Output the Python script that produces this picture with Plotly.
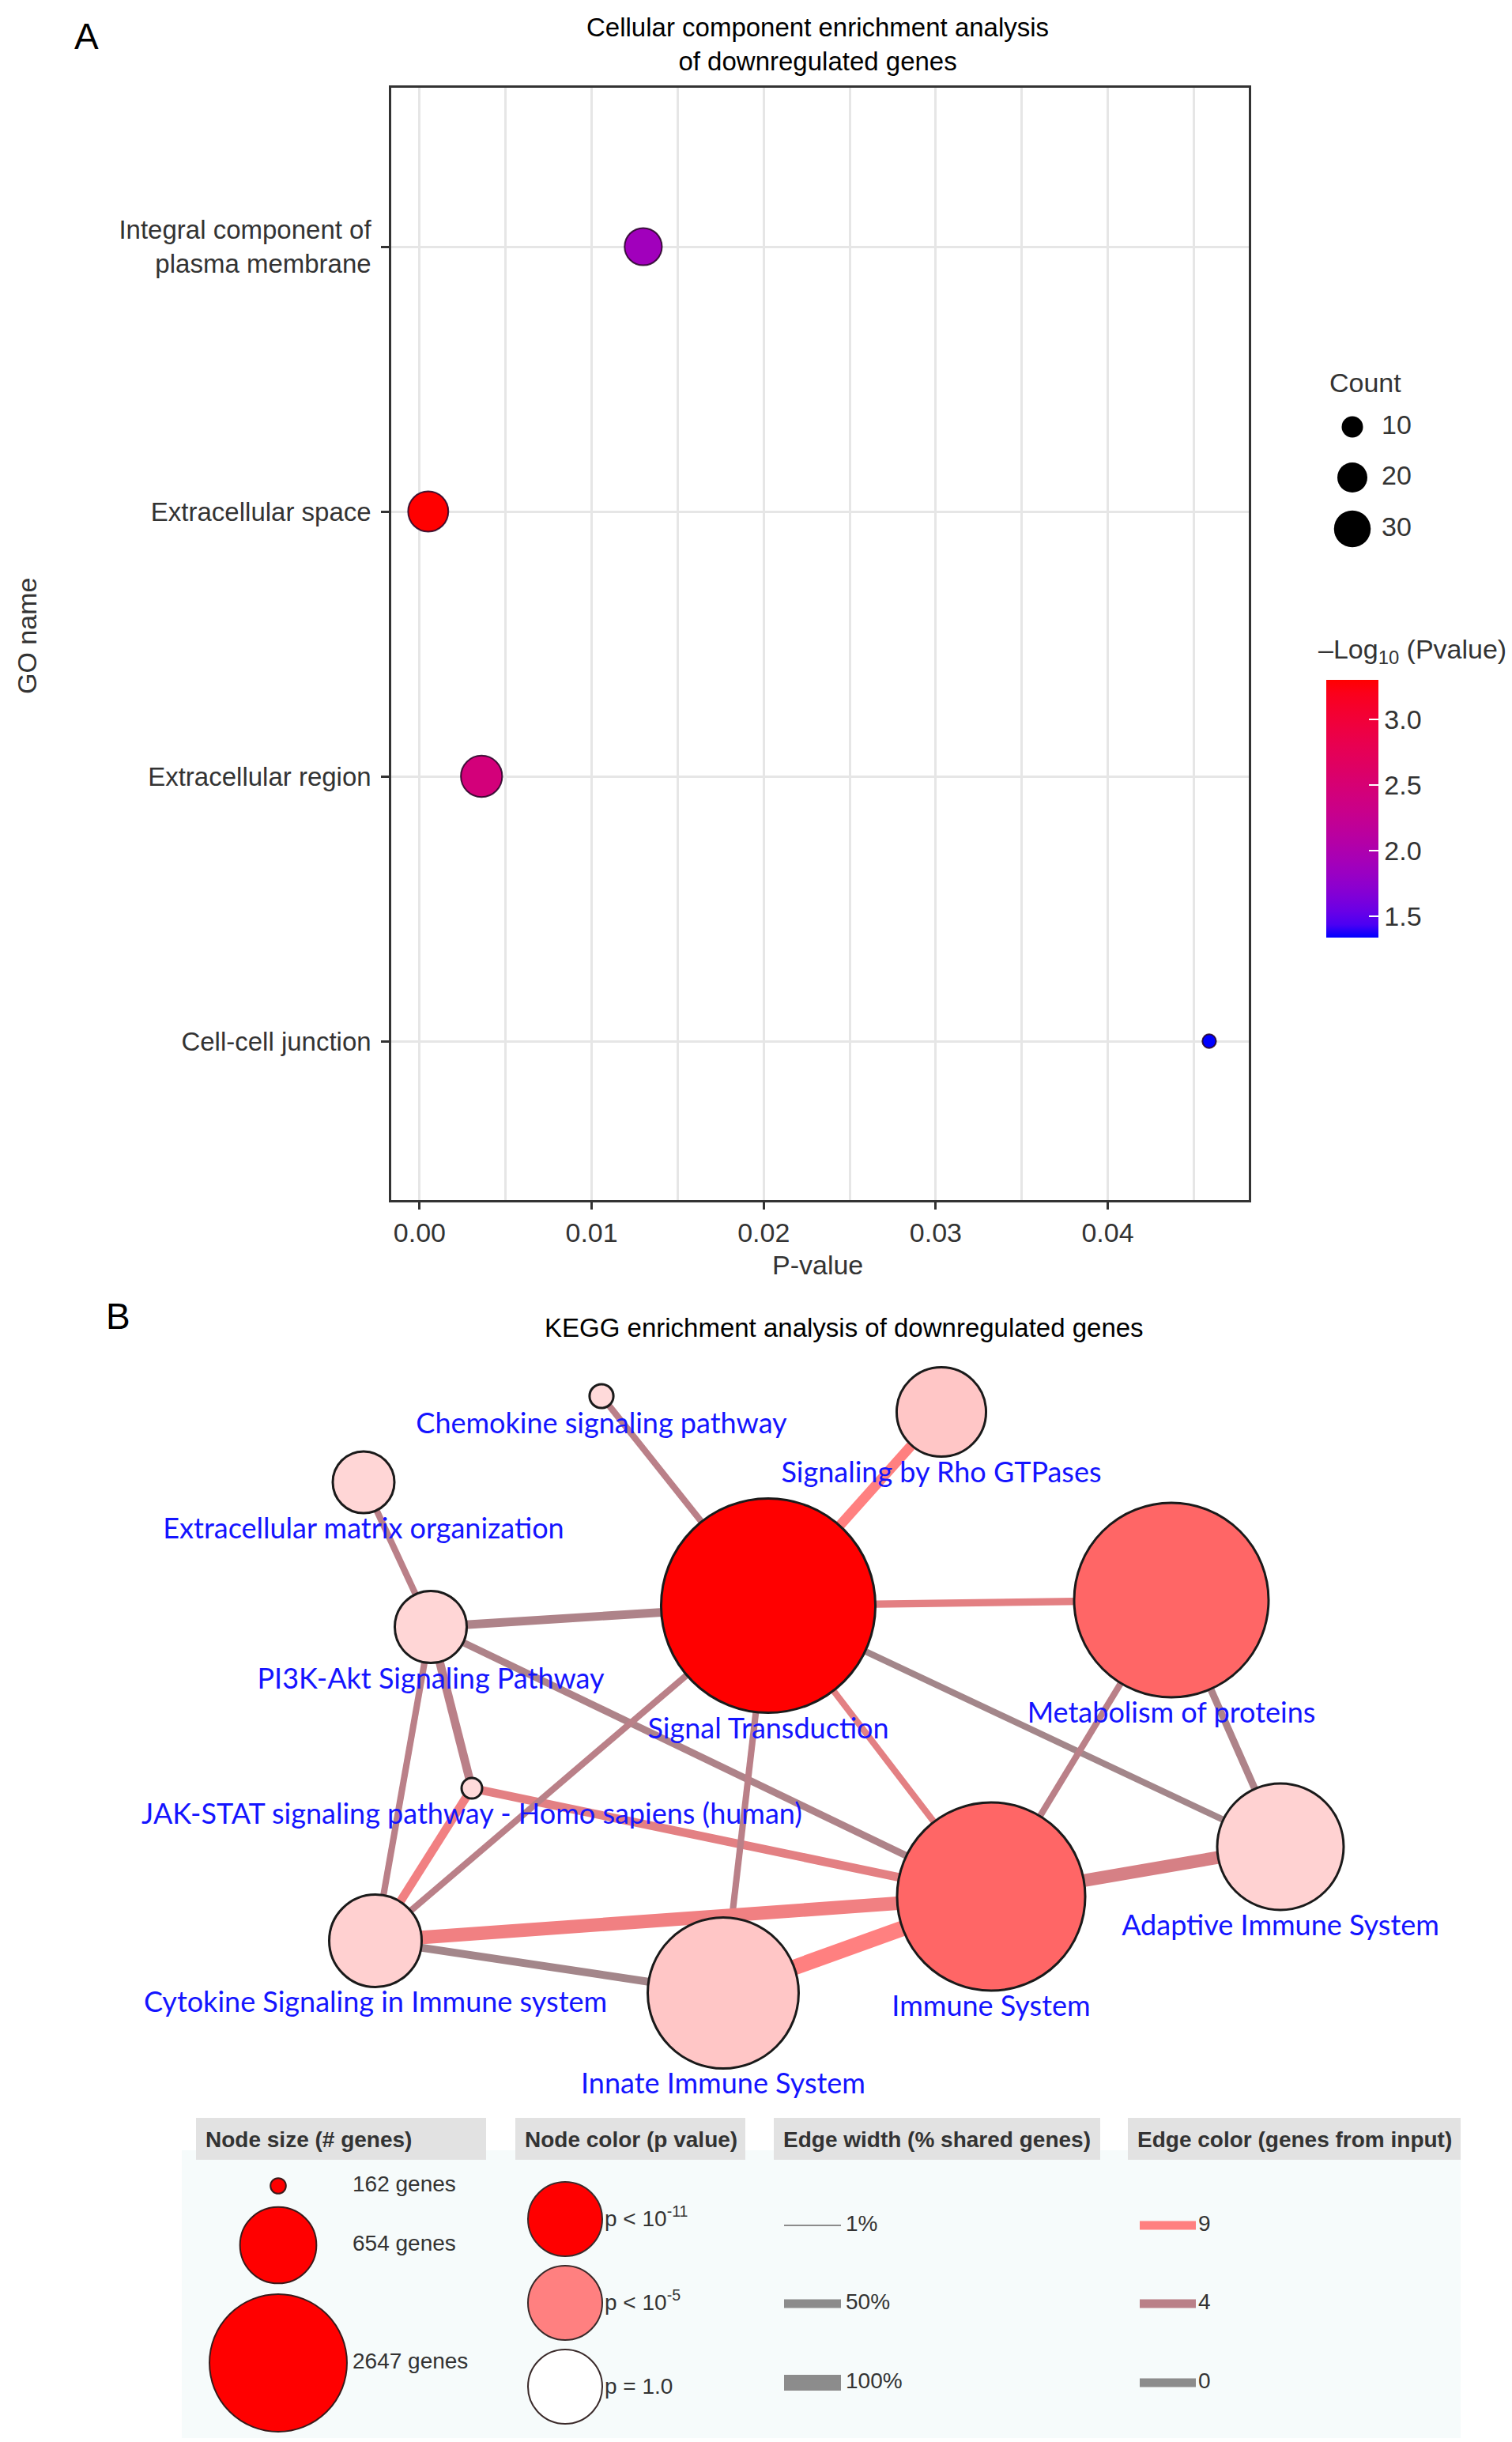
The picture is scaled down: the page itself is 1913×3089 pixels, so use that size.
import math
import plotly.graph_objects as go

W, H = 1913, 3089

# ---------------- Panel A data ----------------
go_terms = ["Integral component of<br>plasma membrane", "Extracellular space",
            "Extracellular region", "Cell-cell junction"]
go_pvalues = [0.0130, 0.00050, 0.0036, 0.0459]
go_counts = [31, 36, 38, 4]
count_legend = [10, 20, 30]
x_ticks = [0.00, 0.01, 0.02, 0.03, 0.04]
cbar_ticks = [1.5, 2.0, 2.5, 3.0]

# ---------------- Panel B data ----------------
node_names = ["Chemokine signaling pathway", "Signaling by Rho GTPases",
              "Extracellular matrix organization", "Signal Transduction",
              "Metabolism of proteins", "PI3K-Akt Signaling Pathway",
              "JAK-STAT signaling pathway - Homo sapiens (human)",
              "Cytokine Signaling in Immune system", "Innate Immune System",
              "Immune System", "Adaptive Immune System"]
node_x = [753, 1183, 452, 964, 1474, 537, 589, 467, 907, 1246, 1612]
node_y = [1758, 1778, 1867, 2023, 2016, 2050, 2254, 2447, 2513, 2391, 2328]
node_genes = [170, 437, 293, 2647, 1989, 340, 162, 457, 1062, 1816, 746]
node_pvalues = [2.5e-2, 3.5e-3, 1.7e-2, 1e-12, 2.5e-7, 1.7e-2, 2.5e-2, 9e-3, 3.5e-3, 2.5e-7, 1.2e-2]

edge_source = ["Chemokine signaling pathway", "Extracellular matrix organization",
               "PI3K-Akt Signaling Pathway", "PI3K-Akt Signaling Pathway",
               "PI3K-Akt Signaling Pathway", "PI3K-Akt Signaling Pathway",
               "Signaling by Rho GTPases", "Signal Transduction", "Signal Transduction",
               "Signal Transduction", "Immune System", "Metabolism of proteins",
               "JAK-STAT signaling pathway - Homo sapiens (human)",
               "JAK-STAT signaling pathway - Homo sapiens (human)",
               "Signal Transduction", "Signal Transduction",
               "Cytokine Signaling in Immune system", "Cytokine Signaling in Immune system",
               "Innate Immune System", "Immune System"]
edge_target = ["Signal Transduction", "PI3K-Akt Signaling Pathway",
               "Signal Transduction", "Immune System",
               "JAK-STAT signaling pathway - Homo sapiens (human)",
               "Cytokine Signaling in Immune system",
               "Signal Transduction", "Metabolism of proteins", "Adaptive Immune System",
               "Immune System", "Metabolism of proteins", "Adaptive Immune System",
               "Immune System", "Cytokine Signaling in Immune system",
               "Cytokine Signaling in Immune system", "Innate Immune System",
               "Immune System", "Innate Immune System",
               "Immune System", "Adaptive Immune System"]
edge_shared_pct = [35, 35, 50, 40, 50, 35, 60, 42, 35, 35, 35, 40, 50, 50, 35, 35, 85, 45, 100, 80]
edge_input_genes = [4, 4, 3, 3, 4, 4, 9, 7, 2, 7, 4, 3, 7, 8, 4, 4, 8, 2, 9, 6]

legend_genes = [162, 654, 2647]
legend_p_labels = ["p < 10<sup>-11</sup>", "p < 10<sup>-5</sup>", "p = 1.0"]
legend_width_pct = [1, 50, 100]
legend_input_genes = [9, 4, 0]

# ---------------- helpers (scales) ----------------
def hex2rgb(h):
    h = h.lstrip('#')
    return [int(h[i:i + 2], 16) for i in (0, 2, 4)]

def srgb_to_lab(rgb):
    def lin(c):
        c = c / 255.0
        return c / 12.92 if c <= 0.04045 else ((c + 0.055) / 1.055) ** 2.4
    r, g, b = [lin(c) for c in rgb]
    X = (0.4124 * r + 0.3576 * g + 0.1805 * b) / 0.95047
    Y = (0.2126 * r + 0.7152 * g + 0.0722 * b)
    Z = (0.0193 * r + 0.1192 * g + 0.9505 * b) / 1.08883
    def f(t):
        return t ** (1 / 3) if t > 0.008856 else 7.787 * t + 16 / 116
    fx, fy, fz = f(X), f(Y), f(Z)
    return [116 * fy - 16, 500 * (fx - fy), 200 * (fy - fz)]

def lab_to_srgb(lab):
    L, a, b = lab
    fy = (L + 16) / 116
    fx = fy + a / 500
    fz = fy - b / 200
    def finv(t):
        return t ** 3 if t ** 3 > 0.008856 else (t - 16 / 116) / 7.787
    X, Y, Z = finv(fx) * 0.95047, finv(fy), finv(fz) * 1.08883
    r = 3.2406 * X - 1.5372 * Y - 0.4986 * Z
    g = -0.9689 * X + 1.8758 * Y + 0.0415 * Z
    bb = 0.0557 * X - 0.2040 * Y + 1.0570 * Z
    def gam(c):
        c = c * 12.92 if c <= 0.0031308 else 1.055 * c ** (1 / 2.4) - 0.055
        return max(0, min(255, round(c * 255)))
    return [gam(r), gam(g), gam(bb)]

lab_lo = srgb_to_lab([0, 0, 255])
lab_hi = srgb_to_lab([255, 0, 0])
colorscale = []
for i in range(21):
    t = i / 20
    lab = [lab_lo[k] + (lab_hi[k] - lab_lo[k]) * t for k in range(3)]
    r, g, b = lab_to_srgb(lab)
    colorscale.append([t, f"rgb({r},{g},{b})"])

def count_size(c):
    return math.sqrt(14 + 71.5 * c)

def graph_radius(n):
    return 14 + 101 * math.log10(n / 162)

def legend_radius(n):
    return 9.8 + 63.6 * math.log10(n / 162)

def pcolor(p):
    f = min(1.0, -math.log10(p) / 11.0)
    v = round(255 * (1 - f))
    return f"rgb(255,{v},{v})"

edge_anchor_n = [0, 4, 9]
edge_anchor_c = [hex2rgb('#8C8C8C'), hex2rgb('#BA8088'), hex2rgb('#FF8080')]

def ecolor(n):
    for i in range(len(edge_anchor_n) - 1):
        a, b = edge_anchor_n[i], edge_anchor_n[i + 1]
        if n <= b:
            t = (n - a) / (b - a)
            c = [round(edge_anchor_c[i][k] + (edge_anchor_c[i + 1][k] - edge_anchor_c[i][k]) * t) for k in range(3)]
            return f"rgb({c[0]},{c[1]},{c[2]})"
    c = edge_anchor_c[-1]
    return f"rgb({c[0]},{c[1]},{c[2]})"

def ewidth(pct):
    return 2 + 0.18 * (pct - 1)

FA = "Liberation Sans, Arial, sans-serif"
FB = "Lato, sans-serif"
TXT = "#333333"

fig = go.Figure()

def rect_trace(x0, x1, y0, y1, color):
    return go.Scatter(x=[x0, x1, x1, x0, x0], y=[y0, y0, y1, y1, y0], mode="lines", fill="toself",
                      fillcolor=color, line=dict(width=0, color=color), xaxis="x2", yaxis="y2",
                      showlegend=False, hoverinfo="skip")

# ---------------- Panel A ----------------
neglog = [-math.log10(p) for p in go_pvalues]
cmin, cmax = min(neglog), max(neglog)
cb_top, cb_bot, cb_left, cb_th = 852, 1178, 1670, 66
fig.add_trace(go.Scatter(
    x=go_pvalues, y=go_terms, mode="markers", xaxis="x", yaxis="y", showlegend=False,
    marker=dict(size=[count_size(c) for c in go_counts], color=neglog, colorscale=colorscale, opacity=1,
                cmin=cmin, cmax=cmax, line=dict(color="rgba(35,0,35,0.85)", width=2),
                colorbar=dict(x=cb_left / W, xanchor="left", y=1 - (cb_top + cb_bot) / 2 / H,
                              yanchor="middle", len=cb_bot - cb_top, lenmode="pixels",
                              thickness=cb_th, thicknessmode="pixels", xpad=0, ypad=0,
                              outlinewidth=0, tickvals=cbar_ticks, ticktext=[f"{v:.1f}" for v in cbar_ticks],
                              ticks="inside", ticklen=12, tickwidth=2, tickcolor="white",
                              tickfont=dict(family=FA, size=34, color=TXT)))))

shapes = []
# colorbar left-side tick marks
for v in cbar_ticks:
    yy = cb_bot - (v - cmin) / (cmax - cmin) * (cb_bot - cb_top)
    shapes.append(dict(type="line", xref="x2", yref="y2", x0=cb_left, x1=cb_left + 12, y0=yy, y1=yy,
                       line=dict(color="white", width=2)))

# Count size legend
cl_y = [532, 596, 661]
fig.add_trace(go.Scatter(x=[1703] * 3, y=cl_y, mode="markers", xaxis="x2", yaxis="y2", showlegend=False,
                         marker=dict(size=[count_size(c) for c in count_legend], color="black", opacity=1,
                                     line=dict(width=0))))
fig.add_trace(go.Scatter(x=[1740] * 3, y=cl_y, mode="text", xaxis="x2", yaxis="y2", showlegend=False,
                         text=[str(c) for c in count_legend], textposition="middle right",
                         textfont=dict(family=FA, size=34, color=TXT)))

# ---------------- Panel B: legend backgrounds ----------------
fig.add_trace(rect_trace(222, 1840, 2712, 3076, "#F6FBFB"))
headers = [("Node size (# genes)", 240, 607), ("Node color (p value)", 644, 935),
           ("Edge width (% shared genes)", 971, 1384), ("Edge color (genes from input)", 1419, 1840)]
annotations = []
for txt, x0, x1 in headers:
    fig.add_trace(rect_trace(x0, x1, 2671, 2724, "#E2E2E2"))
    annotations.append(dict(text=f"<b>{txt}</b>", xref="x2", yref="y2", x=x0 + 10, y=2698,
                            xanchor="left", yanchor="middle", showarrow=False,
                            font=dict(family=FA, size=28, color=TXT)))

# ---------------- Panel B: network ----------------
idx = {n: i for i, n in enumerate(node_names)}
for s, t, pct, ng in zip(edge_source, edge_target, edge_shared_pct, edge_input_genes):
    i, j = idx[s], idx[t]
    fig.add_trace(go.Scatter(x=[node_x[i], node_x[j]], y=[node_y[i], node_y[j]], mode="lines",
                             xaxis="x2", yaxis="y2", showlegend=False, hoverinfo="skip",
                             line=dict(color=ecolor(ng), width=ewidth(pct))))

radii = [graph_radius(n) for n in node_genes]
fig.add_trace(go.Scatter(x=node_x, y=node_y, mode="markers", xaxis="x2", yaxis="y2", showlegend=False,
                         text=node_names,
                         marker=dict(size=[2 * r - 2 for r in radii], color=[pcolor(p) for p in node_pvalues],
                                     line=dict(color="#1a1a1a", width=3), opacity=1)))
fig.add_trace(go.Scatter(x=node_x, y=[y + r + 22 for y, r in zip(node_y, radii)], mode="text",
                         xaxis="x2", yaxis="y2", showlegend=False, text=node_names,
                         textposition="middle center", textfont=dict(family=FB, size=36, color="#1414FF")))

# ---------------- Panel B: legend items ----------------
ns_y = [2757, 2832, 2981]
fig.add_trace(go.Scatter(x=[344] * 3, y=ns_y, mode="markers", xaxis="x2", yaxis="y2", showlegend=False,
                         marker=dict(size=[2 * legend_radius(n) for n in legend_genes], color="#FF0000",
                                     opacity=1, line=dict(color="#3a1a1a", width=2))))
fig.add_trace(go.Scatter(x=[438] * 3, y=ns_y, mode="text", xaxis="x2", yaxis="y2", showlegend=False,
                         text=[f"{n} genes" for n in legend_genes], textposition="middle right",
                         textfont=dict(family=FA, size=28, color=TXT)))

nc_y = [2799, 2905, 3011]
nc_colors = ["#FF0000", "#FF8080", "#FFFFFF"]
fig.add_trace(go.Scatter(x=[707] * 3, y=nc_y, mode="markers", xaxis="x2", yaxis="y2", showlegend=False,
                         marker=dict(size=94, color=nc_colors, opacity=1, line=dict(color="#3a2a2a", width=2))))
fig.add_trace(go.Scatter(x=[757] * 3, y=[y + 2 for y in nc_y], mode="text", xaxis="x2", yaxis="y2",
                         showlegend=False, text=legend_p_labels, textposition="middle right",
                         textfont=dict(family=FA, size=28, color=TXT)))

el_y = [2807, 2906, 3006]
for yy, pct in zip(el_y, legend_width_pct):
    fig.add_trace(go.Scatter(x=[984, 1056], y=[yy, yy], mode="lines", xaxis="x2", yaxis="y2",
                             showlegend=False, line=dict(color="#8C8C8C", width=ewidth(pct))))
fig.add_trace(go.Scatter(x=[1062] * 3, y=el_y, mode="text", xaxis="x2", yaxis="y2", showlegend=False,
                         text=[f"{p}%" for p in legend_width_pct], textposition="middle right",
                         textfont=dict(family=FA, size=28, color=TXT)))
for yy, ng in zip(el_y, legend_input_genes):
    fig.add_trace(go.Scatter(x=[1434, 1505], y=[yy, yy], mode="lines", xaxis="x2", yaxis="y2",
                             showlegend=False, line=dict(color=ecolor(ng), width=11)))
fig.add_trace(go.Scatter(x=[1508] * 3, y=el_y, mode="text", xaxis="x2", yaxis="y2", showlegend=False,
                         text=[str(n) for n in legend_input_genes], textposition="middle right",
                         textfont=dict(family=FA, size=28, color=TXT)))

# ---------------- text annotations ----------------
def ann(text, x, y, size, xanchor="center", angle=0, family=FA, color="#000000"):
    annotations.append(dict(text=text, xref="x2", yref="y2", x=x, y=y, xanchor=xanchor, yanchor="middle",
                            showarrow=False, textangle=angle, font=dict(family=family, size=size, color=color)))

ann("A", 101, 38, 46)
ann("Cellular component enrichment analysis<br>of downregulated genes", 1026, 48, 33)
ann("GO name", 26, 797, 34, angle=-90, color=TXT)
ann("P-value", 1026, 1592, 34, color=TXT)
ann("Count", 1672, 476, 34, xanchor="left", color=TXT)
ann("\u2013Log<sub>10</sub> (Pvalue)", 1658, 815, 34, xanchor="left", color=TXT)
ann("B", 141, 1657, 46)
ann("KEGG enrichment analysis of downregulated genes", 1060, 1671, 33)

grid = "#E6E6E6"
fig.update_layout(
    width=W, height=H, margin=dict(l=0, r=0, t=0, b=0),
    paper_bgcolor="white", plot_bgcolor="rgba(0,0,0,0)",
    shapes=shapes, annotations=annotations,
    xaxis=dict(domain=[487 / W, 1572 / W], range=[-0.00165, 0.0482], anchor="y",
               tickvals=x_ticks, ticktext=[f"{v:.2f}" for v in x_ticks],
               showgrid=True, gridcolor=grid, gridwidth=3, zeroline=False,
               minor=dict(dtick=0.005, tick0=0, showgrid=True, gridcolor=grid, gridwidth=3, ticks=""),
               showline=True, mirror=True, linecolor="#333333", linewidth=2.5,
               ticks="outside", ticklen=9, tickwidth=2.5, tickcolor="#333333",
               tickfont=dict(family=FA, size=34, color=TXT)),
    yaxis=dict(domain=[1 - 1510 / H, 1 - 103 / H], anchor="x", type="category",
               categoryorder="array", categoryarray=go_terms[::-1], range=[-0.6, 3.6],
               showgrid=True, gridcolor=grid, gridwidth=3, zeroline=False,
               showline=True, mirror=True, linecolor="#333333", linewidth=2.5,
               ticks="outside", ticklen=10, tickwidth=2.5, tickcolor="#333333",
               ticklabelstandoff=6,
               tickfont=dict(family=FA, size=33, color=TXT)),
    xaxis2=dict(domain=[0, 1], range=[0, W], anchor="y2", visible=False, fixedrange=True),
    yaxis2=dict(domain=[0, 1], range=[H, 0], anchor="x2", visible=False, fixedrange=True),
)

fig.write_html("out.html")
